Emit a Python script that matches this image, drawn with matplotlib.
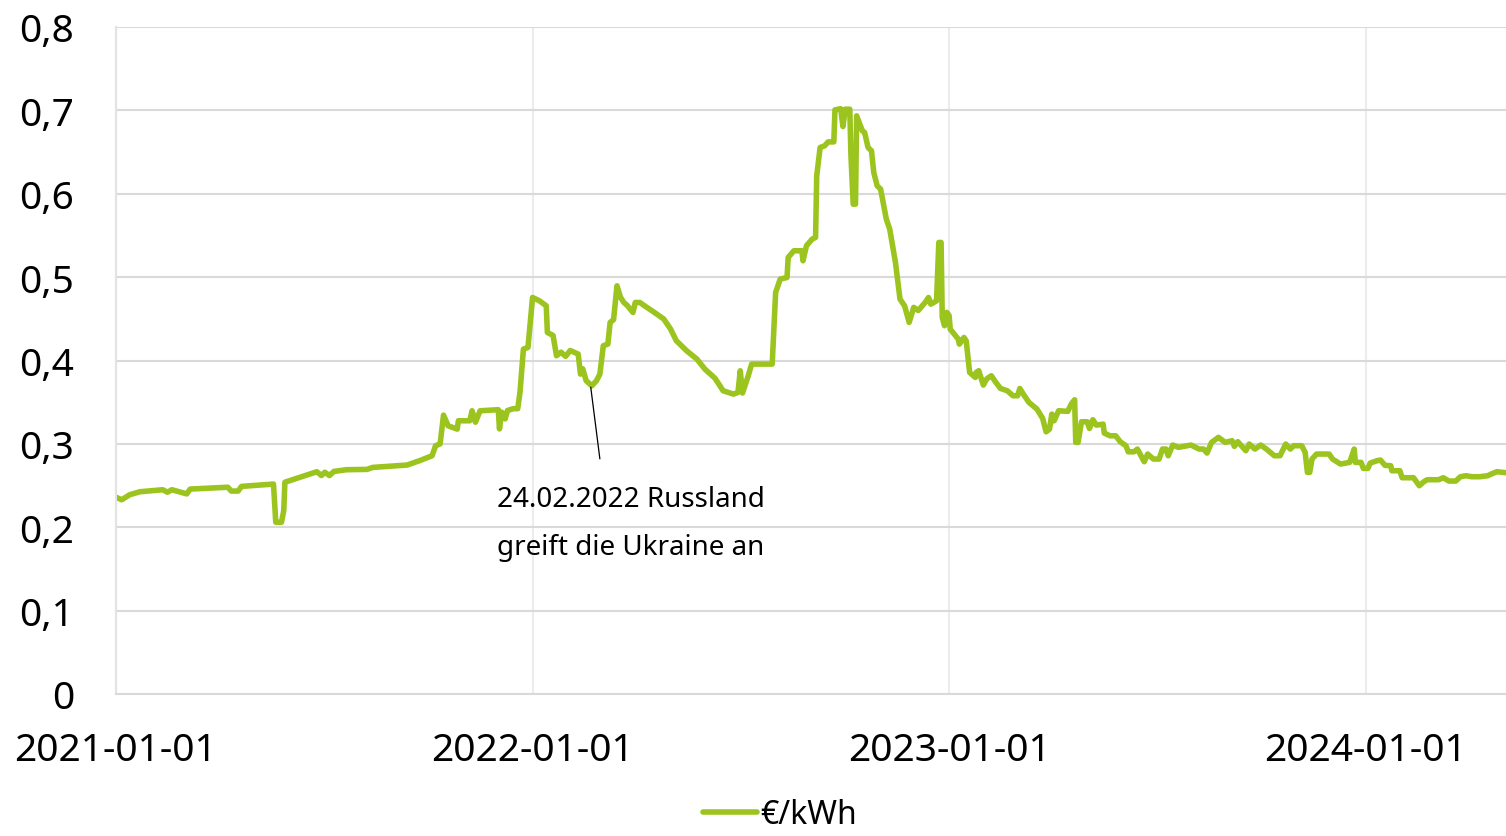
import pandas as pd
import matplotlib.pyplot as plt
import matplotlib.dates as mdates
from matplotlib.ticker import FuncFormatter

plt.rcParams['font.family'] = ['Noto Sans', 'DejaVu Sans']

# Preis in €/kWh
datum = [
    '2021-01-01', '2021-01-06', '2021-01-13', '2021-01-22', '2021-02-11', '2021-02-15', '2021-02-19',
    '2021-03-04', '2021-03-07', '2021-04-09', '2021-04-12', '2021-04-18', '2021-04-21', '2021-05-19',
    '2021-05-21', '2021-05-26', '2021-05-28', '2021-05-29', '2021-06-11', '2021-06-26', '2021-06-30',
    '2021-07-03', '2021-07-07', '2021-07-11', '2021-07-22', '2021-08-09', '2021-08-14', '2021-09-13',
    '2021-09-24', '2021-10-05', '2021-10-08', '2021-10-12', '2021-10-15', '2021-10-19', '2021-10-27',
    '2021-10-28', '2021-11-07', '2021-11-09', '2021-11-12', '2021-11-16', '2021-12-02', '2021-12-03',
    '2021-12-05', '2021-12-08', '2021-12-10', '2021-12-15', '2021-12-19', '2021-12-21', '2021-12-24',
    '2021-12-28',
    '2022-01-01', '2022-01-07', '2022-01-13', '2022-01-14', '2022-01-19', '2022-01-22', '2022-01-26',
    '2022-01-30', '2022-02-03', '2022-02-10', '2022-02-12', '2022-02-14', '2022-02-17', '2022-02-22',
    '2022-02-26', '2022-03-01', '2022-03-04', '2022-03-08', '2022-03-10', '2022-03-13', '2022-03-16',
    '2022-03-19', '2022-03-22', '2022-03-25', '2022-03-30', '2022-04-01', '2022-04-05', '2022-04-10',
    '2022-04-17', '2022-04-26', '2022-05-02', '2022-05-07', '2022-05-16', '2022-05-25', '2022-06-01',
    '2022-06-10', '2022-06-17', '2022-06-26', '2022-06-30', '2022-07-02', '2022-07-04', '2022-07-09',
    '2022-07-12', '2022-07-30', '2022-07-31', '2022-08-02', '2022-08-06', '2022-08-12', '2022-08-13',
    '2022-08-18', '2022-08-25', '2022-08-26', '2022-08-29', '2022-09-03', '2022-09-06', '2022-09-07',
    '2022-09-10', '2022-09-14', '2022-09-17', '2022-09-22', '2022-09-23', '2022-09-28', '2022-09-30',
    '2022-10-02', '2022-10-06', '2022-10-07', '2022-10-09', '2022-10-11', '2022-10-12', '2022-10-17',
    '2022-10-19', '2022-10-22', '2022-10-25', '2022-10-27', '2022-10-30', '2022-11-02', '2022-11-07',
    '2022-11-10', '2022-11-15', '2022-11-19', '2022-11-23', '2022-11-27', '2022-12-01', '2022-12-05',
    '2022-12-11', '2022-12-14', '2022-12-16', '2022-12-21', '2022-12-23', '2022-12-25', '2022-12-26',
    '2022-12-28', '2022-12-30',
    '2023-01-01', '2023-01-02', '2023-01-09', '2023-01-10', '2023-01-14', '2023-01-16', '2023-01-19',
    '2023-01-24', '2023-01-25', '2023-01-27', '2023-01-31', '2023-02-03', '2023-02-07', '2023-02-11',
    '2023-02-15', '2023-02-21', '2023-02-26', '2023-03-02', '2023-03-04', '2023-03-07', '2023-03-12',
    '2023-03-19', '2023-03-24', '2023-03-27', '2023-03-30', '2023-04-01', '2023-04-03', '2023-04-07',
    '2023-04-15', '2023-04-18', '2023-04-21', '2023-04-22', '2023-04-24', '2023-04-27', '2023-05-02',
    '2023-05-04', '2023-05-07', '2023-05-10', '2023-05-16', '2023-05-17', '2023-05-22', '2023-05-27',
    '2023-05-31', '2023-06-05', '2023-06-07', '2023-06-12', '2023-06-15', '2023-06-21', '2023-06-24',
    '2023-06-29', '2023-07-04', '2023-07-07', '2023-07-10', '2023-07-12', '2023-07-16', '2023-07-21',
    '2023-08-01', '2023-08-08', '2023-08-12', '2023-08-15', '2023-08-19', '2023-08-25', '2023-08-31',
    '2023-09-06', '2023-09-08', '2023-09-11', '2023-09-18', '2023-09-21', '2023-09-26', '2023-10-01',
    '2023-10-06', '2023-10-13', '2023-10-18', '2023-10-23', '2023-10-27', '2023-10-30', '2023-11-06',
    '2023-11-09', '2023-11-11', '2023-11-13', '2023-11-15', '2023-11-19', '2023-11-30', '2023-12-03',
    '2023-12-10', '2023-12-18', '2023-12-22', '2023-12-23', '2023-12-28', '2023-12-30',
    '2024-01-03', '2024-01-05', '2024-01-11', '2024-01-14', '2024-01-18', '2024-01-23', '2024-01-24',
    '2024-01-31', '2024-02-02', '2024-02-12', '2024-02-17', '2024-02-21', '2024-02-24', '2024-03-05',
    '2024-03-09', '2024-03-14', '2024-03-20', '2024-03-24', '2024-03-29', '2024-04-03', '2024-04-10',
    '2024-04-17', '2024-04-20', '2024-04-25', '2024-05-03',
]
preis = [
    0.236, 0.233, 0.239, 0.2426, 0.245, 0.242, 0.245,
    0.240, 0.2458, 0.248, 0.2434, 0.2434, 0.249, 0.2518,
    0.206, 0.206, 0.220, 0.254, 0.2598, 0.2666, 0.262,
    0.266, 0.262, 0.267, 0.269, 0.2694, 0.2718, 0.2746,
    0.2798, 0.2858, 0.2977, 0.300, 0.3345, 0.3217, 0.3177,
    0.3277, 0.3277, 0.3397, 0.326, 0.3397, 0.341, 0.318,
    0.338, 0.330, 0.340, 0.3422, 0.3422, 0.3617, 0.4137,
    0.4157,
    0.4756, 0.4716, 0.4656, 0.4336, 0.430, 0.4057, 0.410,
    0.405, 0.412, 0.4077, 0.3837, 0.390, 0.3757, 0.3697,
    0.3757, 0.3837, 0.4177, 0.4197, 0.4457, 0.449, 0.4896,
    0.476, 0.4696, 0.466, 0.4576, 0.4696, 0.4696, 0.4648,
    0.4584, 0.4497, 0.4376, 0.4237, 0.4117, 0.4017, 0.3897,
    0.3785, 0.3637, 0.3597, 0.3617, 0.3877, 0.361, 0.3817,
    0.3957, 0.3957, 0.4237, 0.4816, 0.4976, 0.4996, 0.5236,
    0.5316, 0.5316, 0.5196, 0.5376, 0.5456, 0.5476, 0.6215,
    0.6555, 0.6575, 0.6622, 0.6622, 0.7006, 0.702, 0.6806,
    0.7014, 0.7014, 0.6455, 0.5875, 0.5875, 0.6934, 0.6754,
    0.6735, 0.6555, 0.6515, 0.6255, 0.6095, 0.6055, 0.5695,
    0.5575, 0.5176, 0.4736, 0.4656, 0.4457, 0.4637, 0.460,
    0.4696, 0.4756, 0.4676, 0.4716, 0.5416, 0.5416, 0.4516,
    0.4417, 0.4577,
    0.454, 0.4376, 0.4257, 0.4196, 0.4276, 0.4236, 0.3857,
    0.3797, 0.386, 0.3877, 0.3705, 0.378, 0.3817, 0.3737,
    0.3665, 0.3637, 0.3577, 0.3577, 0.3665, 0.3597, 0.3497,
    0.3417, 0.3305, 0.3145, 0.3177, 0.3357, 0.3277, 0.3397,
    0.339, 0.3477, 0.3529, 0.3018, 0.3018, 0.3265, 0.3265,
    0.3185, 0.329, 0.3225, 0.3237, 0.3129, 0.3097, 0.3097,
    0.3025, 0.2977, 0.2905, 0.2905, 0.2938, 0.2786, 0.2878,
    0.2818, 0.2818, 0.2938, 0.2938, 0.2858, 0.2986, 0.2958,
    0.2986, 0.2938, 0.2938, 0.289, 0.3018, 0.3078, 0.3018,
    0.3038, 0.297, 0.3026, 0.2918, 0.2998, 0.2938, 0.2986,
    0.2938, 0.2858, 0.2858, 0.2998, 0.2938, 0.2978, 0.2978,
    0.2898, 0.2658, 0.2658, 0.2818, 0.2878, 0.2878, 0.2818,
    0.2758, 0.2778, 0.2938, 0.2778, 0.2778, 0.2706,
    0.2706, 0.277, 0.2798, 0.2806, 0.2742, 0.2738, 0.2678,
    0.2678, 0.2594, 0.2594, 0.2498, 0.2546, 0.257, 0.257,
    0.2594, 0.2554, 0.2554, 0.2606, 0.2618, 0.2606, 0.2606,
    0.2618, 0.2638, 0.2666, 0.2654,
]

y_ticks = [0, 0.1, 0.2, 0.3, 0.4, 0.5, 0.6, 0.7, 0.8]
x_ticks = ['2021-01-01', '2022-01-01', '2023-01-01', '2024-01-01']

datum = pd.to_datetime(datum)

fig = plt.figure(figsize=(15.06, 8.37), dpi=100)
ax = fig.add_axes([116 / 1506, 1 - 695 / 837, 1 - 116 / 1506, (695 - 28) / 837])

ax.plot(datum, preis, color='#9bc41e', linewidth=4.0, label='€/kWh',
        solid_joinstyle='round', solid_capstyle='round')

ax.set_xlim(datum[0], datum[-1])
ax.set_ylim(0, 0.8)
ax.set_yticks(y_ticks)
ax.yaxis.set_major_formatter(FuncFormatter(lambda v, p: ('%g' % round(v, 1)).replace('.', ',')))
ax.set_xticks(pd.to_datetime(x_ticks))
ax.xaxis.set_major_formatter(mdates.DateFormatter('%Y-%m-%d'))

ax.tick_params(axis='y', length=0, pad=30, labelsize=28)
ax.tick_params(axis='x', length=0, pad=27, labelsize=28)

ax.grid(axis='y', color='#d9d9d9', linewidth=1.5)
ax.grid(axis='x', color='#ececec', linewidth=1.5)
ax.set_axisbelow(True)
for s in ['top', 'right']:
    ax.spines[s].set_visible(False)
ax.spines['left'].set_color('#e3e3e3')
ax.spines['left'].set_linewidth(1.5)
ax.spines['bottom'].set_color('#d9d9d9')
ax.spines['bottom'].set_linewidth(1.5)

# Hinweis auf den Kriegsbeginn
ax.annotate('', xy=(pd.Timestamp('2022-02-21'), 0.368), xytext=(pd.Timestamp('2022-03-01'), 0.282),
            arrowprops=dict(arrowstyle='-', color='black', lw=0.9, shrinkA=0, shrinkB=0))
ax.text(pd.Timestamp('2022-03-28'), 0.205, '24.02.2022 Russland\ngreift die Ukraine an',
        ha='center', va='center', fontsize=20, linespacing=1.95)

fig.legend(loc='lower center', bbox_to_anchor=(0.518, -0.028), frameon=False, fontsize=23,
           handlelength=1.7, handletextpad=0.1)

fig.savefig('out.png', dpi=100)
